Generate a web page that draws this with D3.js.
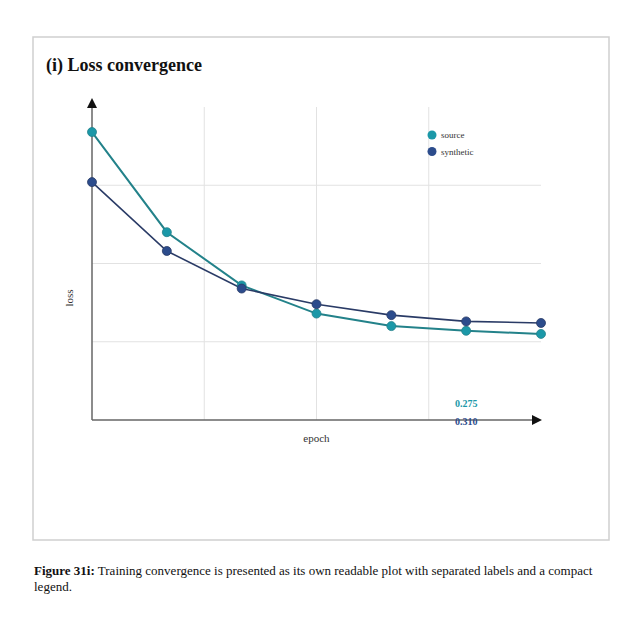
<!DOCTYPE html>
<html>
<head>
<meta charset="utf-8">
<script src="https://cdn.jsdelivr.net/npm/d3@7"></script>
<style>
  body { margin: 0; background: #fff; }
  svg { display: block; font-family: "Liberation Serif", "DejaVu Serif", serif; }
</style>
</head>
<body>
<svg id="chart" width="640" height="640"></svg>
<script>
// Loss convergence panel

// data
const epochs = [0, 1, 2, 3, 4, 5, 6];
const sourceLoss = [0.92, 0.60, 0.43, 0.34, 0.30, 0.285, 0.275];
const syntheticLoss = [0.76, 0.54, 0.42, 0.37, 0.335, 0.315, 0.31];
const seriesNames = ["source", "synthetic"];
const finalLabels = ["0.275", "0.310"];
const gridX = [1.5, 3, 4.5];
const gridY = [0.25, 0.5, 0.75];

const colors = { source: "#1b98a8", synthetic: "#2c4c8c" };
const lineColors = { source: "#23828a", synthetic: "#2a3b66" };

const svg = d3.select("#chart");

// panel frame
svg.append("rect")
  .attr("x", 33).attr("y", 37)
  .attr("width", 576).attr("height", 503)
  .attr("fill", "#fff")
  .attr("stroke", "#cfcfcf")
  .attr("stroke-width", 1.5);

svg.append("text")
  .attr("x", 46).attr("y", 71)
  .style("font-size", "18px")
  .style("font-weight", "bold")
  .attr("fill", "#111")
  .text("(i) Loss convergence");

const xScale = d3.scaleLinear().domain([0, 6]).range([92, 541]);
const yScale = d3.scaleLinear().domain([0, 1]).range([420, 107]);

// gridlines
svg.append("g").selectAll("line")
  .data(gridY)
  .enter().append("line")
  .attr("x1", xScale(0)).attr("x2", xScale(6))
  .attr("y1", d => yScale(d)).attr("y2", d => yScale(d))
  .attr("stroke", "#e2e2e2").attr("stroke-width", 1);

svg.append("g").selectAll("line")
  .data(gridX)
  .enter().append("line")
  .attr("x1", d => xScale(d)).attr("x2", d => xScale(d))
  .attr("y1", yScale(0)).attr("y2", yScale(1))
  .attr("stroke", "#e2e2e2").attr("stroke-width", 1);

// arrow heads
const defs = svg.append("defs");
defs.append("marker")
  .attr("id", "arrow")
  .attr("viewBox", "0 0 10 10")
  .attr("refX", 2).attr("refY", 5)
  .attr("markerWidth", 10).attr("markerHeight", 10)
  .attr("markerUnits", "userSpaceOnUse")
  .attr("orient", "auto")
  .append("path")
  .attr("d", "M0,0 L10,5 L0,10 Z")
  .attr("fill", "#111");

// axes
svg.append("line")
  .attr("x1", xScale(0)).attr("y1", yScale(0))
  .attr("x2", xScale(6) - 7).attr("y2", yScale(0))
  .attr("stroke", "#666").attr("stroke-width", 1.5)
  .attr("marker-end", "url(#arrow)");

svg.append("line")
  .attr("x1", xScale(0)).attr("y1", yScale(0))
  .attr("x2", xScale(0)).attr("y2", yScale(1) - 1)
  .attr("stroke", "#666").attr("stroke-width", 1.5)
  .attr("marker-end", "url(#arrow)");

svg.append("text")
  .attr("x", xScale(3)).attr("y", 442)
  .attr("text-anchor", "middle")
  .style("font-size", "11px")
  .attr("fill", "#333")
  .text("epoch");

svg.append("text")
  .attr("transform", "translate(73,298) rotate(-90)")
  .attr("text-anchor", "middle")
  .style("font-size", "11px")
  .attr("fill", "#333")
  .text("loss");

// series
const series = [
  { name: "source", values: sourceLoss },
  { name: "synthetic", values: syntheticLoss }
];

const line = d3.line()
  .x((d, i) => xScale(epochs[i]))
  .y(d => yScale(d));

series.forEach(s => {
  svg.append("path")
    .datum(s.values)
    .attr("d", line)
    .attr("fill", "none")
    .attr("stroke", lineColors[s.name])
    .attr("stroke-width", s.name === "source" ? 2 : 1.6);
});

series.forEach(s => {
  svg.append("g").selectAll("circle")
    .data(s.values)
    .enter().append("circle")
    .attr("cx", (d, i) => xScale(epochs[i]))
    .attr("cy", d => yScale(d))
    .attr("r", 4.5)
    .attr("fill", colors[s.name])
    .attr("stroke", lineColors[s.name])
    .attr("stroke-width", 0.8);
});

// final value labels
svg.append("g").selectAll("text")
  .data(finalLabels)
  .enter().append("text")
  .attr("x", xScale(5))
  .attr("y", (d, i) => 407 + i * 17.5)
  .attr("text-anchor", "middle")
  .style("font-size", "10px")
  .style("font-weight", "bold")
  .attr("fill", (d, i) => colors[seriesNames[i]])
  .text(d => d);

// legend
const legend = svg.append("g").selectAll("g")
  .data(seriesNames)
  .enter().append("g")
  .attr("transform", (d, i) => "translate(432," + (135 + i * 16.5) + ")");

legend.append("circle")
  .attr("r", 4.5)
  .attr("fill", d => colors[d]);

legend.append("text")
  .attr("x", 9).attr("y", 3)
  .style("font-size", "9px")
  .attr("fill", "#333")
  .text(d => d);

// caption
const caption = svg.append("text")
  .attr("x", 34).attr("y", 575)
  .style("font-size", "13px")
  .attr("fill", "#111");
caption.append("tspan").style("font-weight", "bold").text("Figure 31i:");
caption.append("tspan").text(" Training convergence is presented as its own readable plot with separated labels and a compact");
svg.append("text")
  .attr("x", 34).attr("y", 591)
  .style("font-size", "13px")
  .attr("fill", "#111")
  .text("legend.");
</script>
</body>
</html>
